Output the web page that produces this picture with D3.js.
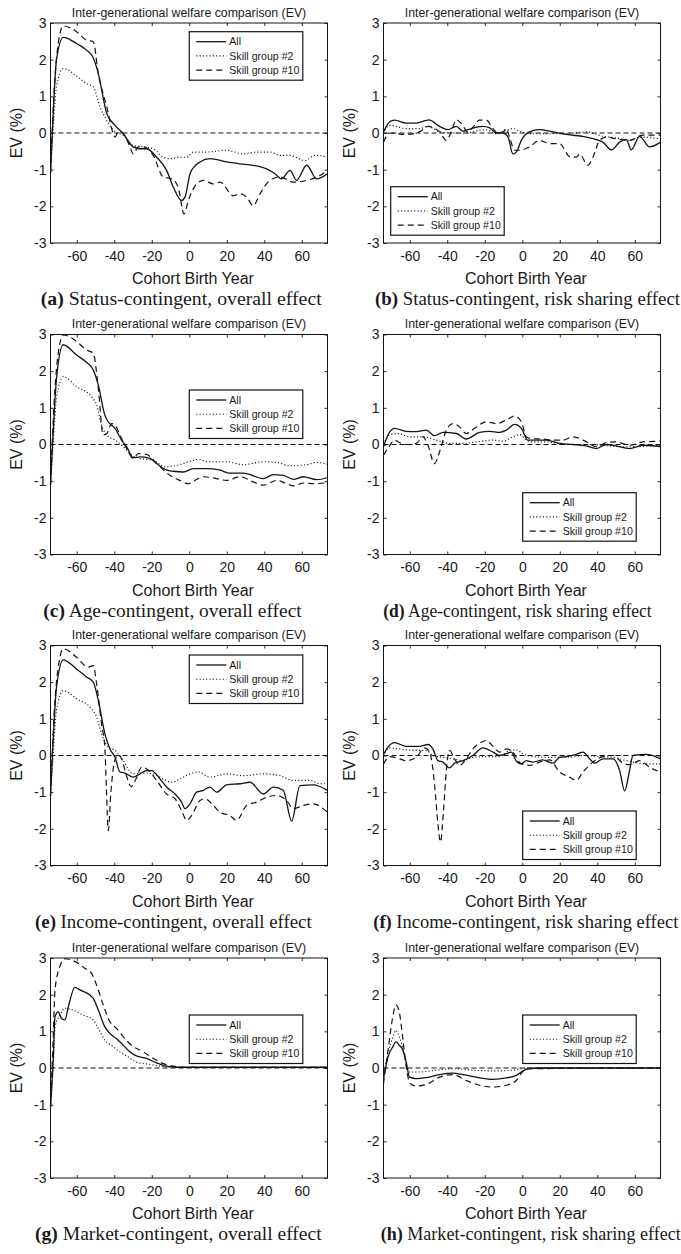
<!DOCTYPE html>
<html>
<head>
<meta charset="utf-8">
<script src="https://cdn.jsdelivr.net/npm/d3@7"></script>
<style>
  body { margin: 0; background: #fff; }
  svg text { font-family: "Liberation Sans", Arial, sans-serif; fill: #1a1a1a; }
  .caption { font-family: "Liberation Serif", "Times New Roman", serif; }
</style>
</head>
<body>
<div id="plot"></div>
<script>
// Axis settings
const xDomain = [-74, 73.7];
const yDomain = [-3, 3];
const xTicks = [-60, -40, -20, 0, 20, 40, 60];
const yTicks = [-3, -2, -1, 0, 1, 2, 3];
const panelTitle = "Inter-generational welfare comparison (EV)";
const xLabel = "Cohort Birth Year";
const yLabel = "EV (%)";
const seriesNames = ["All", "Skill group #2", "Skill group #10"];
const captionTags = ["(a)", "(b)", "(c)", "(d)", "(e)", "(f)", "(g)", "(h)"];
const captionTexts = [
  "Status-contingent, overall effect",
  "Status-contingent, risk sharing effect",
  "Age-contingent, overall effect",
  "Age-contingent, risk sharing effect",
  "Income-contingent, overall effect",
  "Income-contingent, risk sharing effect",
  "Market-contingent, overall effect",
  "Market-contingent, risk sharing effect"
];

// Series: [cohort birth year, EV %]
// (a) status-contingent, overall
const aAll = [[-74,-1.1],[-72.5,0.6],[-70.8,2.0],[-67.2,2.61],[-60.1,2.44],[-54.8,2.26],[-51.2,2.05],[-48.5,1.62],[-44,0.53],[-39.6,0.21],[-35.2,-0.02],[-29.9,-0.38],[-26.3,-0.43],[-22.8,-0.43],[-17.4,-0.66],[-12.1,-1.02],[-8.5,-1.48],[-4.1,-1.84],[-2.3,-1.75],[0.4,-1.11],[3,-0.9],[5.7,-0.79],[11,-0.70],[19.9,-0.79],[27,-0.84],[34.1,-0.88],[41.2,-0.98],[45.7,-1.11],[49.2,-1.25],[53.7,-1.02],[57.2,-1.29],[62.6,-0.88],[67.9,-1.25],[73.7,-1.11]];
const aG2 = [[-74,-1.1],[-72.5,0.2],[-70.8,1.26],[-67.2,1.76],[-60,1.55],[-54.8,1.35],[-51.2,1.26],[-47.6,0.71],[-44,0.35],[-39.6,0.03],[-35.2,-0.06],[-29.9,-0.34],[-24.5,-0.38],[-19.2,-0.43],[-13.9,-0.66],[-10.3,-0.70],[-5,-0.66],[-1.4,-0.66],[2.1,-0.52],[9.2,-0.52],[19.9,-0.47],[28.8,-0.57],[35.9,-0.52],[43,-0.52],[48.4,-0.61],[53.7,-0.61],[61.7,-0.75],[67,-0.61],[73.7,-0.66]];
const aG10 = [[-74,-1.1],[-72,1.2],[-69.9,2.44],[-67.2,2.92],[-60.1,2.76],[-54.8,2.53],[-51.2,2.49],[-48.5,1.62],[-44,0.71],[-40.5,-0.02],[-39.6,-0.11],[-37.9,0.03],[-35.2,-0.02],[-31.6,-0.38],[-29.9,-0.57],[-27.2,-0.38],[-24.5,-0.38],[-19.2,-0.61],[-13.9,-1.20],[-9.4,-1.25],[-5.9,-1.48],[-2.8,-2.21],[-0.5,-1.84],[3.9,-1.39],[7.5,-1.29],[12.8,-1.39],[16.4,-1.34],[23.5,-1.71],[27,-1.66],[30.6,-1.75],[34.1,-1.98],[37.7,-1.66],[43,-1.29],[48.4,-1.20],[55.5,-1.34],[62.6,-1.29],[69.7,-1.16],[73.7,-1.02]];
// (b) status-contingent, risk sharing
const bAll = [[-74,0.03],[-70.8,0.3],[-68.1,0.35],[-61.9,0.27],[-56.5,0.27],[-49.8,0.36],[-44.1,0.18],[-39.6,0.09],[-35.2,0.18],[-31.6,0.05],[-29,0.09],[-21,0.18],[-17.4,0.14],[-13.9,0],[-10.3,0],[-7.6,-0.11],[-5,-0.57],[-3.2,-0.52],[-0.5,-0.2],[3.9,0.03],[9.2,0.09],[14.6,0.05],[23.5,-0.04],[34.1,-0.11],[39.5,-0.18],[43,-0.25],[47.5,-0.46],[51.9,-0.25],[55.5,-0.18],[58.1,-0.46],[62.6,-0.09],[67.9,-0.38],[73.7,-0.25]];
const bG2 = [[-74,0],[-70.8,0.21],[-67.2,0.18],[-61.9,0.12],[-54.8,0.12],[-50.3,0.18],[-44.1,0.03],[-37,0],[-29.9,0],[-22.8,0.07],[-19.2,0.09],[-13.9,-0.02],[-9.4,0.05],[-5,0.12],[-0.5,0.03],[3.9,-0.02],[12.8,-0.02],[23.5,-0.02],[34.1,0.03],[43,-0.09],[50.1,-0.13],[57.2,-0.2],[62.6,-0.11],[73.7,-0.16]];
const bG10 = [[-74,-0.25],[-70.8,0],[-61.9,-0.04],[-54.8,0.03],[-50.3,0.18],[-44.1,0.03],[-40.5,-0.2],[-37.9,0.03],[-35.2,0.36],[-32.5,0.26],[-29,0.03],[-26.3,0.16],[-22.8,0.35],[-19.2,0.35],[-15.6,0.12],[-13,0],[-10.3,0.03],[-8.5,0.12],[-6.8,-0.11],[-4.1,-0.47],[-1.4,-0.47],[3.9,-0.38],[9.2,-0.2],[14.6,-0.29],[19.9,-0.29],[25.2,-0.64],[28.8,-0.66],[30.6,-0.58],[35,-0.88],[37.7,-0.66],[41.2,-0.2],[44.8,-0.11],[50.1,-0.16],[57.2,-0.2],[64.3,-0.06],[73.7,-0.06]];
// (c) age-contingent, overall
const cAll = [[-74,-1.1],[-72.5,0.4],[-70.8,1.8],[-67.2,2.72],[-60.1,2.44],[-55,2.25],[-51.2,2.03],[-48.5,1.62],[-45,0.8],[-43.2,0.62],[-39.6,0.44],[-36.1,0.12],[-33.4,-0.06],[-29.9,-0.36],[-26.3,-0.34],[-21,-0.38],[-17.4,-0.52],[-12.1,-0.70],[-8.5,-0.73],[-3.2,-0.75],[2.1,-0.66],[9.2,-0.66],[16.4,-0.70],[21.7,-0.78],[28.8,-0.78],[39.5,-0.93],[44.8,-0.82],[50.1,-0.84],[55.5,-0.95],[60.8,-0.88],[67.9,-0.96],[73.7,-0.9]];
const cG2 = [[-74,-1.1],[-72.5,0.1],[-70.8,1.26],[-67.2,1.85],[-60.1,1.58],[-52.1,1.3],[-49.4,1.08],[-46.8,0.53],[-44,0.26],[-39.6,0.12],[-35.2,-0.06],[-30.8,-0.29],[-26.3,-0.38],[-19.2,-0.43],[-13,-0.61],[-6.8,-0.57],[0.4,-0.46],[3.9,-0.41],[11,-0.47],[19.9,-0.47],[28.8,-0.55],[39.5,-0.47],[46.6,-0.49],[53.7,-0.58],[62.6,-0.55],[67.9,-0.49],[73.7,-0.54]];
const cG10 = [[-74,-1.1],[-72,1.2],[-69,2.76],[-67.2,2.99],[-60.1,2.81],[-54.8,2.58],[-51.2,2.49],[-48.5,1.53],[-45.9,0.26],[-44,0.3],[-41.4,0.57],[-39.6,0.53],[-37,0.26],[-33.4,-0.11],[-29.9,-0.38],[-27.2,-0.25],[-22.8,-0.27],[-17.4,-0.52],[-10.3,-0.84],[-5,-0.98],[-0.5,-1.07],[3,-0.98],[7.5,-0.88],[12.8,-0.91],[19.9,-0.98],[27,-0.88],[34.1,-1.02],[39.5,-1.11],[46.6,-0.98],[51.9,-1.07],[55.5,-1.13],[60.8,-1.05],[66.1,-1.07],[73.7,-1.04]];
// (d) age-contingent, risk sharing
const dAll = [[-74,-0.06],[-71.6,0.26],[-68.1,0.44],[-61.9,0.36],[-56.5,0.35],[-51.2,0.39],[-46.8,0.24],[-42.3,0.33],[-35.2,0.3],[-29.9,0.15],[-22.8,0.33],[-17.4,0.36],[-12.1,0.33],[-8.5,0.39],[-4.1,0.55],[-0.5,0.44],[3,0.12],[5.7,0.12],[12.8,0.12],[19.9,0.03],[27,0],[34.1,-0.04],[39.5,-0.11],[44.8,0],[50.1,-0.04],[57.2,-0.11],[64.3,-0.02],[73.7,-0.06]];
const dG2 = [[-74,0],[-70.8,0.26],[-66.3,0.3],[-60.1,0.21],[-53,0.21],[-45.9,0.12],[-38.8,0.03],[-31.6,0.03],[-24.5,0.07],[-15.6,0.12],[-10.3,0.09],[-5,0.21],[-1.4,0.27],[2.1,0.12],[5.7,0.07],[12.8,0.07],[23.5,0],[34.1,0],[43,-0.02],[51.9,-0.06],[59,-0.06],[73.7,-0.02]];
const dG10 = [[-74,-0.29],[-70.8,-0.04],[-68.1,0.12],[-65.4,0.05],[-61.9,0],[-56.5,0.03],[-53,0.21],[-50.3,-0.02],[-46.8,-0.52],[-44.1,-0.2],[-40.5,0.39],[-37,0.57],[-33.4,0.48],[-29.9,0.3],[-24.5,0.48],[-19.2,0.62],[-13.9,0.57],[-8.5,0.67],[-4.1,0.78],[-0.5,0.62],[2.1,0.21],[4.8,0.16],[11,0.15],[16.4,0.12],[21.7,0.12],[27,0.21],[32.5,0.12],[39.5,-0.06],[44.8,0.05],[50.1,0.07],[57.2,-0.02],[64.3,0.07],[73.7,0.09]];
// (e) income-contingent, overall
const eAll = [[-74,-1.1],[-72.5,0.5],[-70.8,1.86],[-67.2,2.61],[-60.1,2.36],[-55,2.15],[-51.2,2.0],[-48.5,1.5],[-45,0.59],[-42.3,0.18],[-39.6,-0.05],[-37,-0.45],[-34.3,-0.48],[-29.9,-0.59],[-26.3,-0.5],[-22.8,-0.41],[-20.1,-0.41],[-15.6,-0.64],[-12.1,-0.86],[-7.6,-1.05],[-4.1,-1.27],[-2.3,-1.45],[0.4,-1.32],[3.9,-1.0],[7.5,-0.95],[11,-0.86],[14.6,-1.0],[19.9,-0.8],[27,-0.77],[32.4,-0.73],[39.5,-1.05],[44.8,-0.86],[50.1,-0.95],[54.6,-1.79],[59,-0.82],[66.1,-0.8],[73.7,-0.95]];
const eG2 = [[-74,-1.1],[-72.5,0.1],[-70.8,1.23],[-67.2,1.77],[-60.1,1.55],[-52.1,1.27],[-49.4,1.05],[-46.8,0.59],[-43.2,0.23],[-39.6,0.14],[-35.2,-0.14],[-29.9,-0.5],[-24.5,-0.48],[-19.2,-0.5],[-13.9,-0.64],[-9.4,-0.73],[-5,-0.64],[0.4,-0.5],[4.8,-0.45],[11,-0.59],[19.9,-0.5],[28.8,-0.55],[39.5,-0.5],[48.4,-0.55],[55.5,-0.68],[64.4,-0.68],[69.7,-0.77],[73.7,-0.73]];
const eG10 = [[-74,-1.1],[-72,1.2],[-69.3,2.59],[-67.2,2.91],[-60.1,2.68],[-53.9,2.41],[-51.2,2.45],[-49.4,1.95],[-46.8,0.86],[-45,0.2],[-44.2,-0.9],[-43.2,-2.05],[-41.8,-1.0],[-40,-0.2],[-38,0.02],[-36,-0.1],[-33.5,-0.55],[-31,-0.85],[-28.5,-0.65],[-25.4,-0.32],[-22.8,-0.36],[-17.4,-0.68],[-12.1,-1.05],[-7.6,-1.18],[-4.1,-1.5],[-1.4,-1.77],[1.2,-1.64],[5.7,-1.23],[8.4,-1.18],[12.8,-1.36],[16.4,-1.55],[21.7,-1.64],[25.2,-1.77],[30.6,-1.36],[35.9,-1.27],[41.2,-1.14],[46.6,-1.09],[51.9,-1.23],[55.5,-1.45],[60.8,-1.36],[66.1,-1.32],[73.7,-1.55]];
// (f) income-contingent, risk sharing
const fAll = [[-74,0.03],[-71.6,0.23],[-68.1,0.35],[-61.9,0.25],[-54.8,0.25],[-50.3,0.3],[-47.7,0.18],[-45,-0.14],[-42.3,-0.18],[-38.8,-0.34],[-36.1,-0.21],[-31.6,-0.14],[-26.3,0],[-21,0.21],[-15.6,0.09],[-12.1,0],[-8.5,0.05],[-5.9,0.09],[-3.2,-0.15],[-0.5,-0.23],[2.1,-0.14],[5.7,-0.18],[11,-0.12],[16.4,-0.21],[19.9,-0.05],[23.5,-0.03],[28.8,0.03],[32.4,0.09],[35.9,-0.09],[38.6,-0.21],[43,-0.09],[48.4,-0.09],[51.9,-0.41],[54.6,-0.97],[57.2,-0.41],[59,0],[66.1,0.03],[73.7,-0.09]];
const fG2 = [[-74,0],[-70.8,0.21],[-65.4,0.18],[-58.3,0.14],[-51.2,0.14],[-47.7,0],[-42.3,-0.05],[-37,-0.09],[-31.6,-0.14],[-26.3,-0.05],[-19.2,-0.03],[-12.1,-0.03],[-6.8,0.14],[-3.2,0.15],[0.4,0.05],[5.7,-0.03],[14.6,-0.05],[23.5,-0.05],[32.4,0],[41.2,-0.03],[48.4,-0.05],[55.5,-0.14],[62.6,-0.21],[67.9,-0.23],[73.7,-0.23]];
const fG10 = [[-74,-0.23],[-70.8,-0.03],[-65.4,-0.09],[-61.9,-0.14],[-56.5,-0.05],[-52.1,0.21],[-49.4,0.09],[-46.8,-0.77],[-45,-1.86],[-43.6,-2.36],[-42,-1.5],[-40.5,-0.41],[-38.8,0.14],[-36.1,-0.09],[-33.4,-0.27],[-29.9,-0.09],[-26.3,0.18],[-21.9,0.36],[-19.2,0.41],[-15.6,0.25],[-12.1,0.09],[-8.5,0.18],[-5,0.09],[-0.5,-0.23],[3.9,-0.27],[9.2,-0.18],[14.6,-0.12],[19.9,-0.45],[25.2,-0.59],[28.8,-0.68],[32.4,-0.45],[37.7,-0.18],[43,-0.03],[48.4,0],[53.7,-0.21],[57.2,-0.25],[62.6,-0.14],[67.9,-0.32],[73.7,-0.45]];
// (g) market-contingent, overall
const gAll = [[-74,-1.07],[-72.5,0.3],[-71.6,1.4],[-69.9,1.53],[-68.1,1.35],[-66.3,1.31],[-64.5,1.67],[-61,2.2],[-58.3,2.13],[-53,1.99],[-51.2,1.9],[-48.5,1.58],[-45,1.12],[-42.3,0.94],[-38.8,0.8],[-36.1,0.67],[-32.5,0.48],[-29,0.35],[-22.8,0.26],[-17.4,0.14],[-12.1,0.05],[-6.8,0.02],[5.7,0.02],[73.7,0.02]];
const gG2 = [[-74,-1.07],[-72.5,0.1],[-71.6,1.12],[-69,1.44],[-66.3,1.63],[-61.9,1.58],[-56.5,1.44],[-51.2,1.31],[-48.5,1.08],[-45,0.76],[-40.5,0.58],[-37,0.44],[-32.5,0.3],[-28.1,0.16],[-21,0.1],[-15.6,0.05],[-8.5,0.02],[73.7,0.02]];
const gG10 = [[-74,-1.07],[-72.5,0.9],[-71.6,2.13],[-69,2.77],[-66.3,2.98],[-60.1,2.88],[-55.7,2.72],[-52.1,2.58],[-49.4,2.26],[-45.9,1.72],[-42.3,1.26],[-38.8,1.08],[-35.2,0.85],[-30.8,0.62],[-24.5,0.44],[-19.2,0.26],[-13.9,0.12],[-8.5,0.05],[-1.4,0.02],[73.7,0.02]];
// (h) market-contingent, risk sharing
const hAll = [[-74,-0.29],[-71.6,0.3],[-68.9,0.59],[-67.4,0.71],[-65.6,0.62],[-63.6,0.48],[-61.9,0.16],[-60.1,-0.25],[-56.5,-0.29],[-51.2,-0.26],[-44.1,-0.18],[-37,-0.14],[-31.6,-0.18],[-22.8,-0.27],[-15.6,-0.31],[-8.5,-0.27],[-3.2,-0.2],[-0.5,-0.11],[3,-0.02],[9.2,0],[73.7,0]];
const hG2 = [[-74,-0.25],[-71.6,0.39],[-68.9,0.85],[-67.4,1.03],[-65.6,0.85],[-63.9,0.58],[-61.9,0.12],[-60.1,-0.11],[-54.8,-0.11],[-45.9,-0.06],[-37,-0.02],[-26.3,-0.06],[-15.6,-0.08],[-5,-0.06],[-0.5,-0.02],[3,0],[73.7,0]];
const hG10 = [[-74,-0.43],[-71.6,0.48],[-69.2,1.35],[-67.4,1.72],[-65.6,1.53],[-63.6,0.76],[-61.9,0.03],[-59.7,-0.43],[-56.5,-0.49],[-51.2,-0.45],[-44.1,-0.25],[-37,-0.18],[-29.9,-0.34],[-22.8,-0.47],[-15.6,-0.52],[-8.5,-0.47],[-3.2,-0.34],[-0.5,-0.14],[2.1,-0.02],[73.7,0]];

const panelSeries = [
  [aAll, aG2, aG10], [bAll, bG2, bG10],
  [cAll, cG2, cG10], [dAll, dG2, dG10],
  [eAll, eG2, eG10], [fAll, fG2, fG10],
  [gAll, gG2, gG10], [hAll, hG2, hG10]
];

// Layout (pixels)
const colX = [50.5, 383.5];
const rowTop = [23, 334.5, 645.5, 958];
const plotW = 277, plotH = 220;
const legendPos = [[138.8, 8.7], [7.2, 163.7], [138.8, 55.5], [139.2, 158.2],
                   [138.8, 9.5], [139.2, 165.5], [138.8, 57], [139.2, 57]];
const captionPos = [[40.7, 281], [375, 305], [43.3, 258.4], [383.3, 268.4],
                    [35, 276.7], [373.3, 305], [35, 286.7], [380.7, 300]];

// Line styles for All / #2 / #10
const lineDash = [null, "1.1,2.2", "6,4"];
const lineWidth = [1.3, 1.15, 1.2];
const ink = "#141414";

const svg = d3.select("#plot")
  .append("svg")
  .attr("width", 681)
  .attr("height", 1254);

const xScale = d3.scaleLinear().domain(xDomain).range([0, plotW]);
const yScale = d3.scaleLinear().domain(yDomain).range([plotH, 0]);

// plain hyphen minus, integer labels (as in the MATLAB figure)
const tickFmt = d => String(d);

const line = d3.line()
  .x(d => xScale(d[0]))
  .y(d => yScale(d[1]))
  .curve(d3.curveMonotoneX);

panelSeries.forEach((series, i) => {
  const col = i % 2, row = Math.floor(i / 2);
  const g = svg.append("g")
    .attr("transform", `translate(${colX[col]}, ${rowTop[row]})`);

  // Axes with inward ticks (MATLAB style)
  const bottom = g.append("g")
    .attr("transform", `translate(0, ${plotH})`)
    .call(d3.axisBottom(xScale).tickValues(xTicks).tickFormat(tickFmt)
      .tickSizeInner(-3).tickSizeOuter(0).tickPadding(8));
  const left = g.append("g")
    .call(d3.axisLeft(yScale).tickValues(yTicks).tickFormat(tickFmt)
      .tickSizeInner(-3).tickSizeOuter(0).tickPadding(4));
  g.append("g")
    .call(d3.axisTop(xScale).tickValues(xTicks).tickSizeInner(-3).tickSizeOuter(0).tickFormat(""));
  g.append("g")
    .attr("transform", `translate(${plotW}, 0)`)
    .call(d3.axisRight(yScale).tickValues(yTicks).tickSizeInner(-3).tickSizeOuter(0).tickFormat(""));

  g.selectAll(".domain").remove();
  g.selectAll(".tick line").attr("stroke", ink).attr("stroke-width", 0.9);
  [bottom, left].forEach(ax => ax
    .attr("font-size", 14)
    .attr("font-family", "Liberation Sans, Arial, sans-serif"));
  g.selectAll(".tick text").attr("fill", "#1a1a1a");

  // Zero reference line
  g.append("line")
    .attr("x1", xScale(xDomain[0]))
    .attr("x2", xScale(xDomain[1]))
    .attr("y1", yScale(0))
    .attr("y2", yScale(0))
    .attr("stroke", ink)
    .attr("stroke-width", 1.1)
    .attr("stroke-dasharray", "5,3");

  // Data lines
  series.forEach((s, k) => {
    g.append("path")
      .datum(s)
      .attr("fill", "none")
      .attr("stroke", ink)
      .attr("stroke-width", lineWidth[k])
      .attr("stroke-dasharray", lineDash[k])
      .attr("d", line);
  });

  // Plot frame
  g.append("rect")
    .attr("width", plotW)
    .attr("height", plotH)
    .attr("fill", "none")
    .attr("stroke", ink)
    .attr("stroke-width", 1);

  // Title and axis labels
  g.append("text")
    .attr("x", plotW / 2)
    .attr("y", -6.5)
    .attr("text-anchor", "middle")
    .attr("font-size", 12.3)
    .text(panelTitle);

  g.append("text")
    .attr("x", plotW / 2 + 4)
    .attr("y", plotH + 41)
    .attr("text-anchor", "middle")
    .attr("font-size", 16)
    .text(xLabel);

  g.append("text")
    .attr("transform", `translate(-34.5, ${plotH / 2}) rotate(-90)`)
    .attr("text-anchor", "middle")
    .attr("dy", "0.36em")
    .attr("font-size", 16)
    .text(yLabel);

  // Legend
  const lg = g.append("g")
    .attr("transform", `translate(${legendPos[i][0]}, ${legendPos[i][1]})`);
  lg.append("rect")
    .attr("width", 113.5)
    .attr("height", 48.5)
    .attr("fill", "#fff")
    .attr("stroke", ink)
    .attr("stroke-width", 1.2);
  seriesNames.forEach((name, k) => {
    const yy = 10 + k * 14.2;
    lg.append("line")
      .attr("x1", 7).attr("x2", 37)
      .attr("y1", yy).attr("y2", yy)
      .attr("stroke", ink)
      .attr("stroke-width", lineWidth[k])
      .attr("stroke-dasharray", lineDash[k]);
    lg.append("text")
      .attr("x", 40)
      .attr("y", yy)
      .attr("dy", "0.35em")
      .attr("font-size", 10.6)
      .text(name);
  });

  // Sub-figure caption
  const cap = svg.append("text")
    .attr("class", "caption")
    .attr("x", captionPos[i][0])
    .attr("y", rowTop[row] + plotH + 62)
    .attr("font-size", 18)
    .attr("textLength", captionPos[i][1])
    .attr("lengthAdjust", "spacingAndGlyphs");
  cap.append("tspan").attr("font-weight", "bold").text(captionTags[i]);
  cap.append("tspan").text(" " + captionTexts[i]);
});
</script>
</body>
</html>
